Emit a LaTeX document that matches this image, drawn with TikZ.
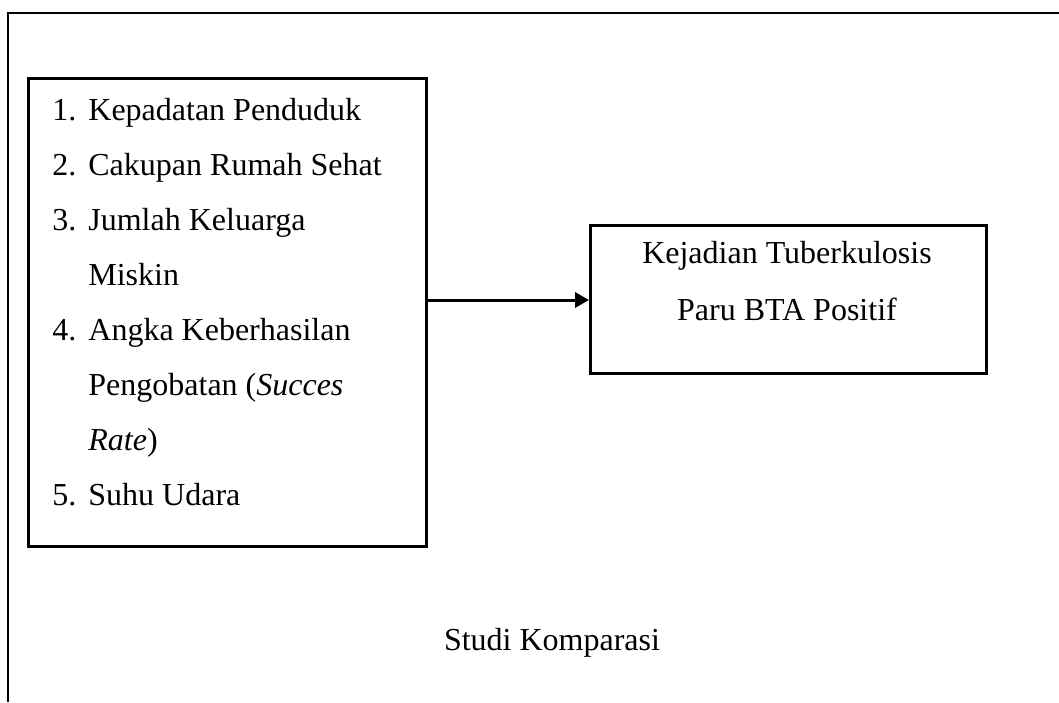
\documentclass[tikz,border=0pt]{standalone}
\usepackage{fontspec}
\setmainfont{Liberation Serif}
\usetikzlibrary{arrows.meta}
\begin{document}
\begin{tikzpicture}[x=0.5pt,y=-0.5pt,
  frame/.style={line width=1pt},
  box/.style={draw,line width=1.5pt,inner sep=0pt,anchor=north west},
  txt/.style={anchor=base west,inner sep=0pt,font=\fontsize{16}{19}\selectfont},
  ctxt/.style={anchor=base,inner sep=0pt,font=\fontsize{16}{19}\selectfont},
  conn/.style={line width=1.5pt,-{Triangle[length=7pt,width=7.5pt]}}]
\useasboundingbox (0,0) rectangle (1059,702);
\draw[frame] (1059,13) -- (8,13) -- (8,702);
\node[box,minimum width=199pt,minimum height=234pt] (factors) at (27,77) {};
\node[box,minimum width=198pt,minimum height=74pt] (outcome) at (589,224) {};
% list
\node[txt] (n1) at (52,120) {1.};
\node[txt] (t1) at (88,120) {Kepadatan Penduduk};
\node[txt] (n2) at (52,175) {2.};
\node[txt] (t2) at (88,175) {Cakupan Rumah Sehat};
\node[txt] (n3) at (52,230) {3.};
\node[txt] (t3) at (88,230) {Jumlah Keluarga};
\node[txt] (t3b) at (88,285) {Miskin};
\node[txt] (n4) at (52,340) {4.};
\node[txt] (t4) at (88,340) {Angka Keberhasilan};
\node[txt] (t4b) at (88,395) {Pengobatan (\textit{Succes}};
\node[txt] (t4c) at (88,450) {\textit{Rate})};
\node[txt] (n5) at (52,505) {5.};
\node[txt] (t5) at (88,505) {Suhu Udara};
% outcome text
\node[ctxt] (o1) at (787,263) {Kejadian Tuberkulosis};
\node[ctxt] (o2) at (787,320) {Paru BTA Positif};
% caption
\node[ctxt] (cap) at (552,650) {Studi Komparasi};
% connector
\coordinate (mid) at (500,300);
\draw[conn] (factors.east |- mid) -- (outcome.west |- mid);
\end{tikzpicture}
\end{document}
